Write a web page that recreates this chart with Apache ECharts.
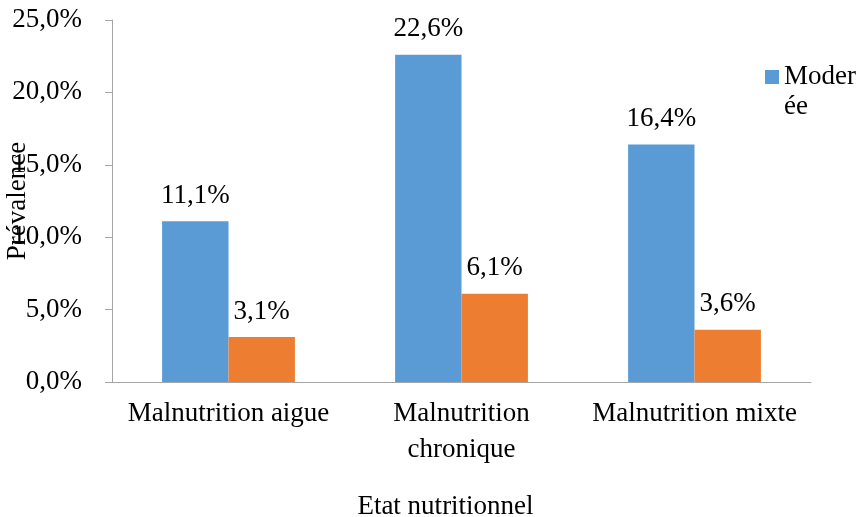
<!DOCTYPE html>
<html>
<head>
<meta charset="utf-8">
<script src="https://cdn.jsdelivr.net/npm/echarts@6/dist/echarts.min.js"></script>
<style>
  html, body { margin: 0; padding: 0; background: #ffffff; }
  #chart { width: 868px; height: 517px; }
</style>
</head>
<body>
<div id="chart"></div>
<script>
// Prévalence de la malnutrition par état nutritionnel
const categories = ['Malnutrition aigue', 'Malnutrition chronique', 'Malnutrition mixte'];
const moderee = [11.1, 22.6, 16.4];
const severe = [3.1, 6.1, 3.6];
const seriesNames = ['Moderée', 'Sévère'];

const FONT = '"Liberation Serif", "Times New Roman", serif';
const FS = 27;
const pct = v => v.toFixed(1).replace('.', ',') + '%';

const chart = echarts.init(document.getElementById('chart'), null, { renderer: 'canvas' });

const valueLabel = {
  show: true,
  position: 'top',
  distance: 12,
  color: '#000',
  fontFamily: FONT,
  fontSize: FS,
  formatter: p => pct(p.value)
};

chart.setOption({
  animation: false,
  backgroundColor: '#ffffff',
  textStyle: { fontFamily: FONT },
  grid: { left: 112, right: 57, top: 20, bottom: 135, containLabel: false, outerBoundsMode: 'none' },
  legend: {
    data: [seriesNames[0]],
    left: 760,
    top: 27,
    orient: 'vertical',
    icon: 'rect',
    itemWidth: 14,
    itemHeight: 14,
    // the legend label wraps onto a second line; a blank first line keeps
    // the swatch level with "Moder"
    formatter: name => name === 'Moderée' ? ' \nModer\née' : name,
    textStyle: { fontFamily: FONT, fontSize: FS, color: '#000', lineHeight: 30 }
  },
  xAxis: {
    type: 'category',
    data: categories,
    name: 'Etat nutritionnel',
    nameLocation: 'middle',
    nameGap: 111,
    nameMoveOverlap: false,
    // title sits a little left of the axis centre
    nameTextStyle: { fontFamily: FONT, fontSize: FS, color: '#000', padding: [0, 32, 0, 0] },
    axisLine: { show: true, lineStyle: { color: '#a6a6a6', width: 1 } },
    axisTick: { show: false },
    axisLabel: {
      color: '#000',
      fontFamily: FONT,
      fontSize: FS,
      lineHeight: 36,
      margin: 14,
      interval: 0,
      formatter: v => v === 'Malnutrition chronique' ? 'Malnutrition\nchronique' : v
    }
  },
  yAxis: {
    type: 'value',
    min: 0,
    max: 25,
    interval: 5,
    name: 'Prévalence',
    nameLocation: 'middle',
    nameGap: 81,
    nameRotate: 90,
    nameMoveOverlap: false,
    nameTextStyle: { fontFamily: FONT, fontSize: FS, color: '#000' },
    axisLine: { show: true, lineStyle: { color: '#a6a6a6', width: 1 } },
    axisTick: { show: true, length: 7, lineStyle: { color: '#a6a6a6' } },
    splitLine: { show: false },
    axisLabel: {
      color: '#000',
      fontFamily: FONT,
      fontSize: FS,
      margin: 30,
      formatter: v => pct(v)
    }
  },
  series: [
    {
      name: seriesNames[0],
      type: 'bar',
      data: moderee,
      barGap: '0%',
      barCategoryGap: '43%',
      itemStyle: { color: '#5b9bd5' },
      label: valueLabel
    },
    {
      name: seriesNames[1],
      type: 'bar',
      data: severe,
      barGap: '0%',
      barCategoryGap: '43%',
      itemStyle: { color: '#ed7d31' },
      label: valueLabel
    }
  ]
});
</script>
</body>
</html>
